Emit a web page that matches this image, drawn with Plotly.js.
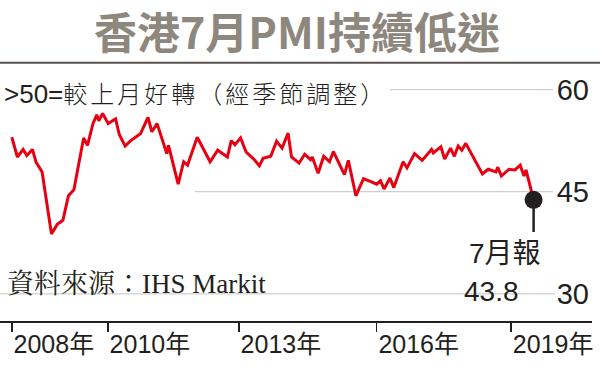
<!DOCTYPE html>
<html>
<head>
<meta charset="utf-8">
<script src="https://cdn.plot.ly/plotly-3.0.1.min.js"></script>
<style>
  html, body { margin: 0; padding: 0; background: #ffffff; }
  #chart { width: 600px; height: 380px; }
  g.annotation[data-index="0"] text { letter-spacing: 3px; }
</style>
</head>
<body>
<div id="chart"></div>
<script>
// ---- data (HK PMI, seasonally adjusted) ----
const dates = [
  '2008-01-01','2008-02-15','2008-04-01','2008-05-01','2008-06-15','2008-07-15','2008-09-01','2008-11-15',
  '2009-01-01','2009-02-15','2009-04-01','2009-05-15','2009-08-01','2009-09-01','2009-10-15','2009-11-15',
  '2009-12-01','2010-01-01','2010-02-15','2010-04-15','2010-05-15','2010-07-01','2010-08-15','2010-11-01',
  '2011-01-01','2011-02-01','2011-03-15','2011-06-01','2011-06-15','2011-09-01','2011-10-15','2011-11-15',
  '2012-02-01','2012-05-15','2012-07-15','2012-10-01','2012-11-01','2012-12-01','2013-01-15','2013-03-01',
  '2013-05-01','2013-06-15','2013-07-15','2013-09-15','2013-11-01','2013-12-15','2014-02-01','2014-03-01',
  '2014-05-01','2014-06-15','2014-08-01','2014-08-15','2014-10-01','2014-11-15','2015-01-01','2015-02-01',
  '2015-05-01','2015-06-01','2015-08-01','2015-10-01','2015-11-15','2016-01-15','2016-02-15','2016-03-15',
  '2016-05-01','2016-06-01','2016-08-15','2016-09-15','2016-11-15','2017-01-15','2017-04-01','2017-04-15',
  '2017-06-15','2017-07-15','2017-09-01','2017-10-01','2017-11-01','2017-12-01','2018-01-01','2018-05-15',
  '2018-07-01','2018-09-01','2018-09-15','2018-10-15','2018-12-15','2019-02-01','2019-03-15','2019-04-15',
  '2019-05-01','2019-07-01'
];
const pmi = [
  53.0, 50.1, 51.2, 50.3, 51.2, 49.3, 47.9, 38.8,
  40.2, 40.8, 44.4, 45.3, 52.9, 51.8, 55.0, 56.3,
  55.4, 56.5, 55.0, 55.7, 53.4, 51.7, 52.5, 53.5,
  55.9, 53.8, 55.0, 50.6, 51.8, 46.1, 49.4, 48.9,
  53.0, 49.4, 51.1, 50.1, 52.5, 51.9, 52.9, 50.8,
  49.8, 48.8, 49.9, 50.2, 52.4, 51.4, 53.6, 50.1,
  49.2, 50.5, 49.7, 50.1, 47.7, 50.2, 49.4, 50.9,
  47.5, 49.6, 44.4, 46.9, 46.6, 46.1, 46.6, 45.4,
  47.0, 45.6, 49.4, 48.5, 50.6, 49.6, 51.2, 50.7,
  51.6, 49.8, 51.4, 50.2, 51.7, 51.1, 52.1, 47.6,
  48.3, 47.9, 48.6, 47.3, 48.3, 48.2, 48.9, 47.3,
  48.2, 43.8
];
const yTickVals = [30, 45, 60];
const yTickText = ['30', '45', '60'];
const xTickVals = ['2008-01-01', '2010-02-12', '2013-01-01', '2016-01-15', '2019-01-01'];
const xTickText = ['2008年', '2010年', '2013年', '2016年', '2019年'];
const latestLabel = '7月報';
const titleText = '香港7月PMI持續低迷';
const subtitleLead = '&gt;50=';
const subtitleText = '較上月好轉（經季節調整）';
const sourceText = '資料來源：IHS Markit';

// ---- layout geometry (page pixels) ----
const W = 600, H = 380;
const M = { l: 0, r: 8, t: 40, b: 59 };
const PW = W - M.l - M.r, PH = H - M.t - M.b;
const px = x => (x - M.l) / PW;
const py = y => (H - M.b - y) / PH;
const PXU = 6.806;                         // pixels per PMI point
const yTop = 26 + PH / PXU;                // keeps 30 / 45 / 60 at the reference heights

const ink = '#231f20';
const sansLatin = '"Liberation Sans", Arial, "Noto Sans CJK TC", sans-serif';
const cjk = '"Noto Sans CJK TC", "Noto Sans CJK SC", sans-serif';

const lastDate = dates[dates.length - 1];
const lastVal = pmi[pmi.length - 1];

const traces = [
  {
    x: dates, y: pmi, type: 'scatter', mode: 'lines',
    line: { color: '#e60012', width: 3 },
    hoverinfo: 'skip'
  },
  {
    x: [lastDate], y: [lastVal], type: 'scatter', mode: 'markers',
    marker: { color: ink, size: 18 },
    hoverinfo: 'skip'
  }
];

const layout = {
  width: W, height: H,
  margin: M,
  paper_bgcolor: '#ffffff',
  plot_bgcolor: '#ffffff',
  showlegend: false,
  xaxis: {
    type: 'date',
    range: ['2007-09-28', '2020-10-13'],
    showgrid: false, zeroline: false,
    showline: true, linecolor: ink, linewidth: 2,
    ticks: 'outside', ticklen: 9, tickwidth: 1.5, tickcolor: ink,
    tickvals: xTickVals, ticktext: xTickText,
    ticklabelposition: 'outside right',
    ticklabeloverflow: 'allow',
    tickangle: 0,
    tickfont: { family: sansLatin, size: 25, color: ink },
    automargin: false, fixedrange: true
  },
  yaxis: {
    range: [26, yTop],
    side: 'right',
    showgrid: false, zeroline: false, showline: false,
    ticks: '',
    tickvals: yTickVals, ticktext: yTickText,
    ticklabelposition: 'inside',
    ticklabeloverflow: 'allow',
    tickfont: { family: sansLatin, size: 29, color: ink },
    automargin: false, fixedrange: true
  },
  shapes: [
    { type: 'line', xref: 'paper', yref: 'paper', x0: px(0), x1: px(600), y0: py(62.7), y1: py(62.7),
      line: { color: '#585250', width: 2 } },
    { type: 'line', xref: 'paper', yref: 'y', x0: px(390), x1: px(553), y0: 60, y1: 60,
      line: { color: '#cfcfcf', width: 1.2 }, layer: 'below' },
    { type: 'line', xref: 'paper', yref: 'y', x0: px(195), x1: px(553), y0: 45, y1: 45,
      line: { color: '#cfcfcf', width: 1.2 }, layer: 'below' },
    { type: 'line', xref: 'paper', yref: 'y', x0: px(0), x1: px(555), y0: 30, y1: 30,
      line: { color: '#cfcfcf', width: 1.2 }, layer: 'below' },
    { type: 'line', xref: 'x', yref: 'paper', x0: lastDate, x1: lastDate, y0: py(205), y1: py(232),
      line: { color: ink, width: 2.5 } }
  ],
  annotations: [
    { text: '<span style="letter-spacing:0px;font-family:Liberation Sans;font-size:26px">' + subtitleLead + '</span>' + subtitleText,
      xref: 'paper', yref: 'paper', x: px(2), y: py(92.5),
      xanchor: 'left', yanchor: 'middle', align: 'left', showarrow: false,
      font: { family: cjk, size: 24, color: ink, weight: 300 } },
    { text: titleText, xref: 'paper', yref: 'paper', x: px(297), y: py(30),
      xanchor: 'center', yanchor: 'middle', showarrow: false,
      font: { family: cjk, size: 43, color: '#8d877e', weight: 700 } },
    { text: sourceText, xref: 'paper', yref: 'paper', x: px(5), y: py(284),
      xanchor: 'left', yanchor: 'middle', showarrow: false,
      font: { family: '"Liberation Serif", "Noto Serif CJK TC", "Noto Sans CJK TC", serif', size: 27, color: ink } },
    { text: latestLabel, xref: 'paper', yref: 'paper', x: px(504.5), y: py(253.5),
      xanchor: 'center', yanchor: 'middle', showarrow: false,
      font: { family: sansLatin, size: 28, color: ink } },
    { text: String(lastVal), xref: 'paper', yref: 'paper', x: px(491.5), y: py(291),
      xanchor: 'center', yanchor: 'middle', showarrow: false,
      font: { family: sansLatin, size: 28, color: ink } }
  ]
};

Plotly.newPlot('chart', traces, layout, { staticPlot: true, displayModeBar: false });
</script>
</body>
</html>
